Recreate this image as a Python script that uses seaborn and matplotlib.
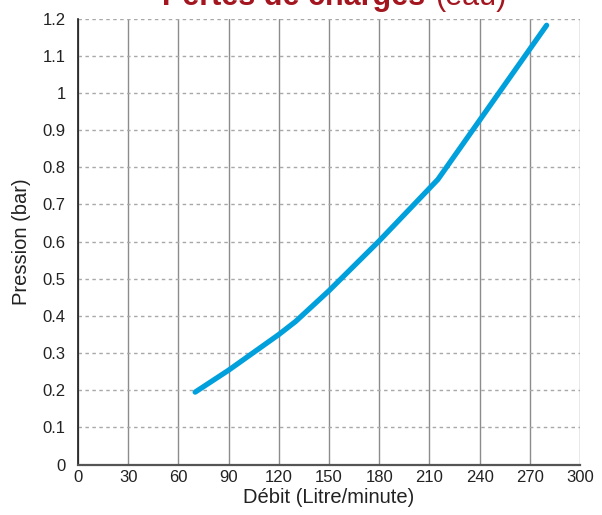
import numpy as np
import pandas as pd
import seaborn as sns
import matplotlib.pyplot as plt

# values
debit = [70, 90, 120, 130, 150, 180, 215, 280]
pression = [0.195, 0.254, 0.35, 0.385, 0.468, 0.602, 0.767, 1.182]

x_ticks = [0, 30, 60, 90, 120, 150, 180, 210, 240, 270, 300]
y_ticks = [0, 0.1, 0.2, 0.3, 0.4, 0.5, 0.6, 0.7, 0.8, 0.9, 1, 1.1, 1.2]
y_labels = ['0', '0.1', '0.2', '0.3', '0.4', '0.5', '0.6', '0.7', '0.8', '0.9', '1', '1.1', '1.2']

sns.set_style("white")
plt.rcParams['font.family'] = ['Liberation Sans', 'DejaVu Sans']

df = pd.DataFrame({'Débit': debit, 'Pression': pression})

fig = plt.figure(figsize=(6.02, 5.15), dpi=100)
ax = fig.add_axes([0.1296, 0.0979, 0.834, 0.866])

sns.lineplot(data=df, x='Débit', y='Pression', ax=ax, color='#00a0dc',
             linewidth=3.8, solid_capstyle='round', solid_joinstyle='round', zorder=3)

ax.set_xlim(0, 300)
ax.set_ylim(0, 1.2)
ax.set_xticks(x_ticks)
ax.set_xticklabels([str(t) for t in x_ticks])
ax.set_yticks(y_ticks)
ax.set_yticklabels(y_labels)

# vertical grid solid, horizontal grid dotted
ax.grid(axis='x', color='#8c8c8c', linewidth=1, linestyle='-')
ax.grid(axis='y', color='#a8a8a8', linewidth=1, linestyle=(0, (2.5, 2.5)))
ax.set_axisbelow(True)

for side in ['top', 'right']:
    ax.spines[side].set_visible(False)
ax.spines['left'].set_color('#1a1a1a')
ax.spines['left'].set_linewidth(1.2)
ax.spines['bottom'].set_color('#555555')
ax.spines['bottom'].set_linewidth(1.6)

ax.tick_params(axis='y', length=3, width=1, color='#1a1a1a', pad=6, labelsize=12, labelcolor='#222222')
ax.tick_params(axis='x', length=0, pad=4, labelsize=12, labelcolor='#222222')

ax.set_xlabel('Débit (Litre/minute)', fontsize=14.5, color='#222222', labelpad=2)
ax.set_ylabel('Pression (bar)', fontsize=14.5, color='#222222', labelpad=8)

# title, partly cut off at the top as in the reference
t1 = fig.text(162 / 602, 0.99, 'Pertes de charges', fontsize=22, fontweight='bold',
              color='#a3161f', ha='left', va='baseline')
fig.canvas.draw()
bb = t1.get_window_extent(renderer=fig.canvas.get_renderer())
fig.text(bb.x1 / fig.bbox.width + 10 / 602, 0.99, '(eau)', fontsize=22,
         color='#a3161f', ha='left', va='baseline')

fig.savefig('out.png', dpi=100)
